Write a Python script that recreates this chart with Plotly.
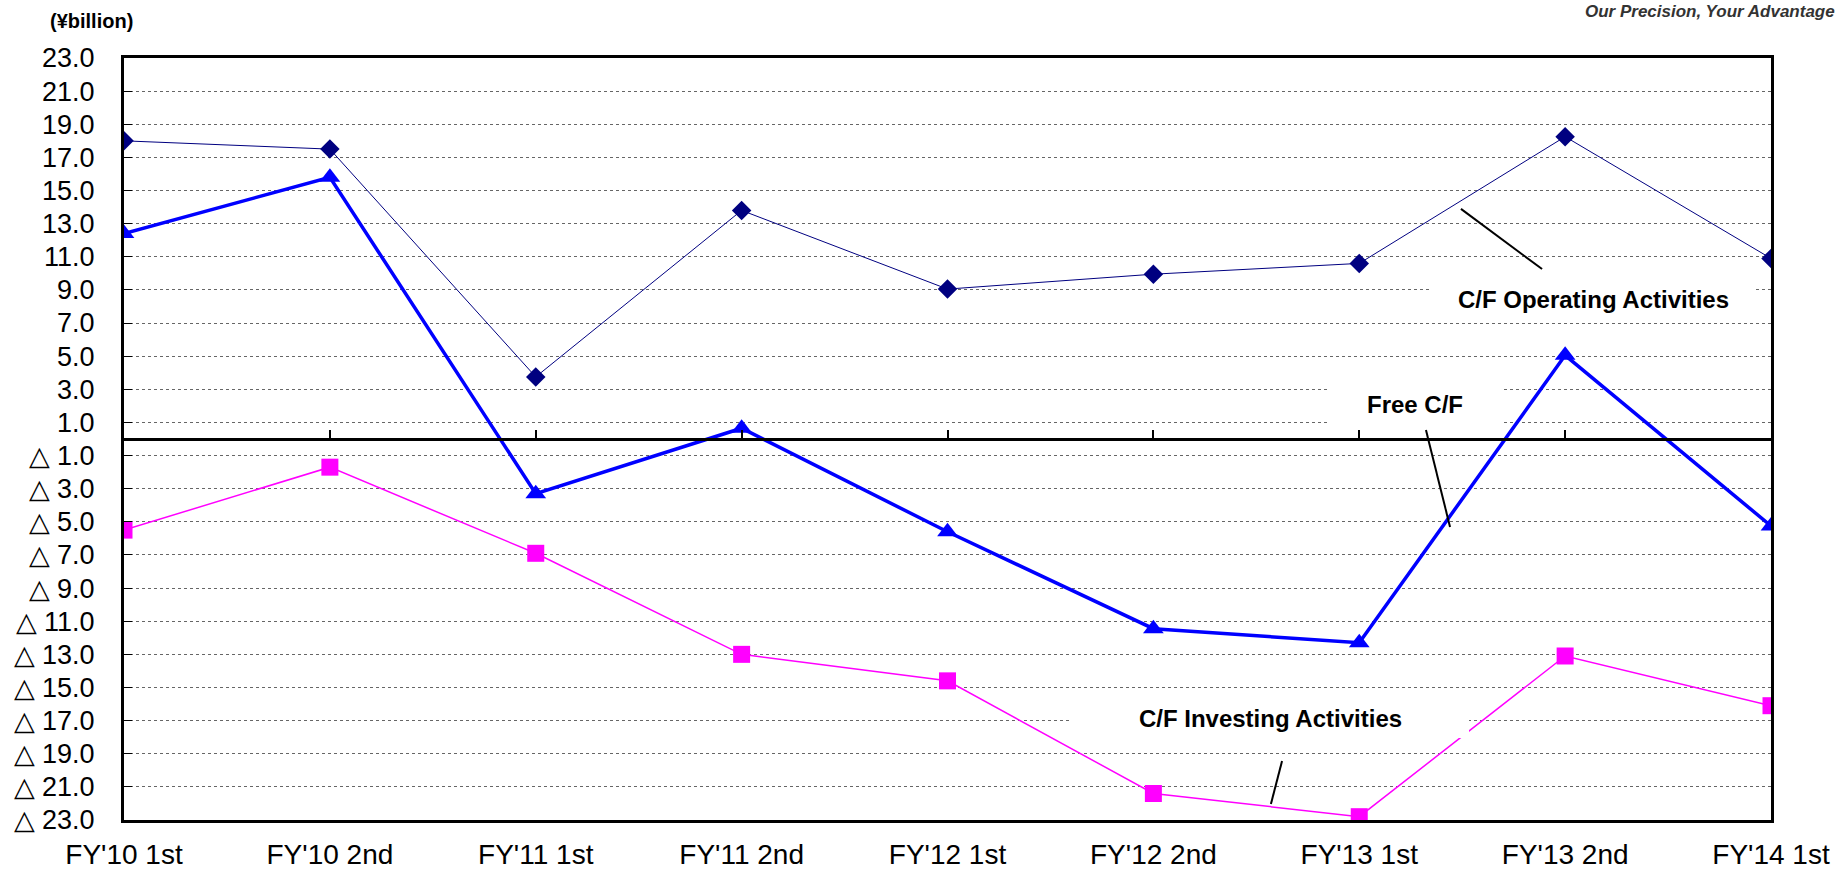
import plotly.graph_objects as go

categories = ["FY'10 1st", "FY'10 2nd", "FY'11 1st", "FY'11 2nd", "FY'12 1st",
              "FY'12 2nd", "FY'13 1st", "FY'13 2nd", "FY'14 1st"]
operating = [18.0, 17.5, 3.75, 13.8, 9.05, 9.95, 10.6, 18.25, 10.9]
investing = [-5.5, -1.7, -6.9, -13.0, -14.6, -21.4, -22.8, -13.1, -16.1]
free_cf = [12.4, 15.8, -3.3, 0.65, -5.6, -11.45, -12.3, 5.05, -5.25]

y_ticks = list(range(-23, 24, 2))
y_ticktext = [("△ %.1f" % abs(v)) if v < 0 else ("%.1f" % v) for v in y_ticks]

x = list(range(len(categories)))

fig = go.Figure()
fig.add_trace(go.Scatter(
    x=x, y=operating, mode="lines+markers", name="C/F Operating Activities",
    line=dict(color="#000080", width=1),
    marker=dict(symbol="diamond", size=15, color="#000080"),
    hoverinfo="x+y"))
fig.add_trace(go.Scatter(
    x=x, y=investing, mode="lines+markers", name="C/F Investing Activities",
    line=dict(color="#FF00FF", width=1.5),
    marker=dict(symbol="square", size=17, color="#FF00FF"),
    hoverinfo="x+y"))
fig.add_trace(go.Scatter(
    x=x, y=free_cf, mode="lines+markers", name="Free C/F",
    line=dict(color="#0000FF", width=3.5),
    marker=dict(symbol="triangle-up", size=18, color="#0000FF"),
    hoverinfo="x+y"))
# invisible trace to hold the zero-crossing axis
fig.add_trace(go.Scatter(
    x=x, y=[0] * len(x), xaxis="x2", mode="lines",
    line=dict(width=0, color="rgba(0,0,0,0)"), hoverinfo="skip", showlegend=False))

tick_font = dict(family="Liberation Sans, Arial, sans-serif", size=27, color="black")

fig.update_layout(
    width=1837, height=869,
    margin=dict(l=124, r=66, t=58, b=49, autoexpand=False),
    paper_bgcolor="white", plot_bgcolor="white",
    showlegend=False,
    xaxis=dict(
        range=[0, 8], tickmode="array", tickvals=x, ticktext=categories,
        showgrid=False, zeroline=False, showline=True, mirror=True,
        linecolor="black", linewidth=3, ticks="", automargin=False,
        tickfont=dict(family="Liberation Sans, Arial, sans-serif", size=28, color="black"),
        ticklabelstandoff=7,
    ),
    xaxis2=dict(
        range=[0, 8], overlaying="x", anchor="free", position=0.5, side="bottom",
        tickmode="array", tickvals=x, showticklabels=False, automargin=False,
        showgrid=False, zeroline=False, showline=True, linecolor="black", linewidth=3,
        ticks="inside", ticklen=8, tickwidth=2, tickcolor="black",
    ),
    yaxis=dict(
        range=[-23, 23], tickmode="array", tickvals=y_ticks, ticktext=y_ticktext,
        showgrid=True, gridcolor="#666666", griddash="dot", gridwidth=1,
        zeroline=False, showline=True, mirror=True, linecolor="black", linewidth=3,
        ticks="inside", ticklen=8, tickwidth=1, tickcolor="black", automargin=False,
        tickfont=tick_font, ticklabelstandoff=21,
    ),
)

line_style = dict(color="black", width=2)
fig.add_shape(type="line", x0=6.494, y0=13.89, x1=6.888, y1=10.26, line=line_style)
fig.add_shape(type="line", x0=6.324, y0=0.54, x1=6.441, y1=-5.31, line=line_style)
fig.add_shape(type="line", x0=5.625, y0=-19.44, x1=5.571, y1=-22.03, line=line_style)

ann_font = dict(family="Liberation Sans, Arial, sans-serif", size=24, color="black")
for text, ax_, ay_, w in [("<b>C/F Operating Activities</b>", 7.138, 8.45, 323),
                          ("<b>Free C/F</b>", 6.271, 2.11, 172),
                          ("<b>C/F Investing Activities</b>", 5.569, -16.84, 397)]:
    fig.add_annotation(x=ax_, y=ay_, xref="x", yref="y", text=text, showarrow=False,
                       font=ann_font, bgcolor="white", width=w, height=40,
                       borderpad=0, borderwidth=0, align="center", valign="middle")

fig.add_annotation(x=0, y=1, xref="paper", yref="paper", text="<b>(¥billion)</b>",
                   showarrow=False, xanchor="left", yanchor="middle",
                   xshift=-76, yshift=37,
                   font=dict(family="Liberation Sans, Arial, sans-serif", size=20, color="black"))
fig.add_annotation(x=1.04, y=1, xref="paper", yref="paper",
                   text="<b><i>Our Precision, Your Advantage</i></b>",
                   showarrow=False, xanchor="right", yanchor="top", yshift=58,
                   font=dict(family="Liberation Sans, Arial, sans-serif", size=17, color="#333333"))

fig.write_html("out.html", config={"displayModeBar": False},
               post_script="document.body.style.margin='0';")
